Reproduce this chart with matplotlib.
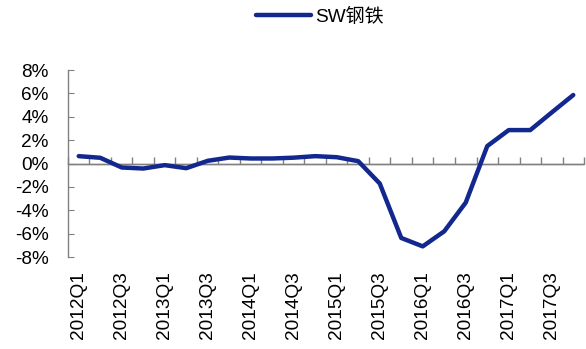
import matplotlib
matplotlib.use("Agg")
import matplotlib.pyplot as plt
import numpy as np

plt.rcParams['font.family'] = ['Liberation Sans', 'Noto Sans CJK SC', 'DejaVu Sans']

# Quarterly series, 2012Q1 - 2017Q4 (%)
quarters = [f"{y}Q{q}" for y in range(2012, 2018) for q in range(1, 5)]
steel = [0.63, 0.49, -0.34, -0.43, -0.14, -0.40, 0.23, 0.51, 0.43, 0.43,
         0.50, 0.63, 0.54, 0.20, -1.71, -6.37, -7.09, -5.80, -3.34, 1.49,
         2.86, 2.86, 4.37, 5.86]
series_name = "SW钢铁"
y_ticks = [-8, -6, -4, -2, 0, 2, 4, 6, 8]

line_color = "#13288e"
axis_color = "#808080"

fig = plt.figure(figsize=(5.86, 3.49), dpi=100)
ax = fig.add_axes([0.116, 0.2636, 0.8806, 0.5358])

x = np.arange(len(quarters))
ax.plot(x, steel, color=line_color, lw=3.2, solid_capstyle='round',
        solid_joinstyle='round', label=series_name, zorder=3)

ax.set_xlim(-0.5, len(quarters) - 0.5)
ax.set_ylim(y_ticks[0], y_ticks[-1])

# y axis
ax.set_yticks(y_ticks)
ax.set_yticklabels([f"{v}%" for v in y_ticks])
for s in ['top', 'right', 'bottom']:
    ax.spines[s].set_visible(False)
ax.spines['left'].set_color(axis_color)
ax.spines['left'].set_linewidth(1.0)
ax.tick_params(axis='y', direction='in', length=4, color=axis_color,
               labelsize=13.7, pad=14)

# x labels at the bottom, every other quarter
ax.set_xticks(x[::2])
ax.set_xticklabels(quarters[::2], rotation=90)
ax.tick_params(axis='x', length=0, labelsize=13.7, pad=10)

# zero line carrying the category tick marks (pointing upward)
zero_frac = (0 - y_ticks[0]) / (y_ticks[-1] - y_ticks[0])
sec = ax.secondary_xaxis(zero_frac)
sec.set_xticks(np.arange(len(quarters) + 1) - 0.5)
sec.tick_params(axis='x', direction='out', length=5, color=axis_color,
                labelbottom=False, labeltop=False, width=1.0)
sec.spines['bottom'].set_visible(True)
sec.spines['bottom'].set_color(axis_color)
sec.spines['bottom'].set_linewidth(1.0)
for s in ['top', 'left', 'right']:
    sec.spines[s].set_visible(False)
ax.axhline(0, color=axis_color, lw=1.0, zorder=1)

fig.legend(loc='center', bbox_to_anchor=(0.546, 0.951), frameon=False,
           fontsize=13.7, handlelength=2.9, handletextpad=0.2)

fig.savefig("out.png", dpi=100)
